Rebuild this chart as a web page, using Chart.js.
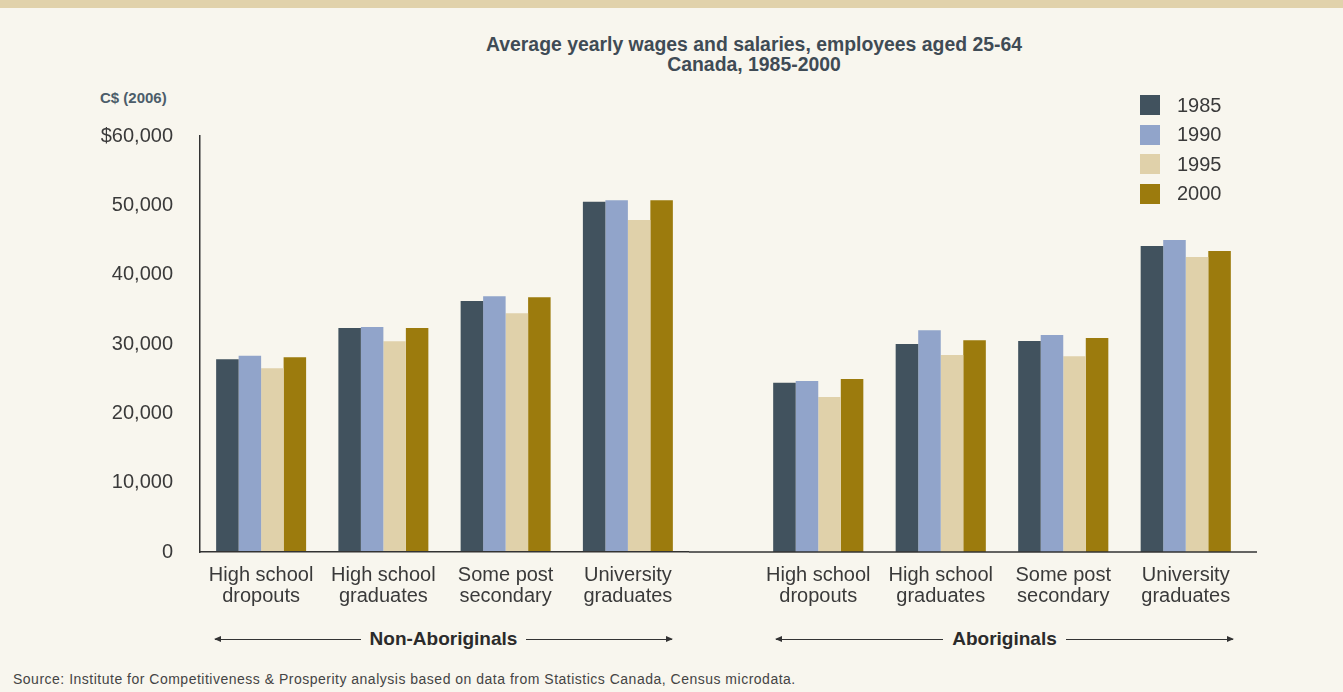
<!DOCTYPE html>
<html>
<head>
<meta charset="utf-8">
<script src="https://cdn.jsdelivr.net/npm/chart.js@4.4.1/dist/chart.umd.min.js"></script>
<style>
  body { margin: 0; background: #f8f6ee; font-family: 'Liberation Sans', Arial, sans-serif; }
  #page { position: relative; width: 1343px; height: 692px; overflow: hidden; background: #f8f6ee; }
  .band { position: absolute; left: 0; top: 0; width: 1343px; height: 8px; background: #e1d2ab; }
  .title { position: absolute; left: 454px; top: 34px; width: 600px; text-align: center;
           font-weight: bold; font-size: 19.4px; line-height: 20px; color: #3f4b55; }
  .ytitle { position: absolute; left: 100px; top: 89px; font-weight: bold; font-size: 15px; color: #4c5d6a; }
  canvas { position: absolute; top: 0; }
  #left { left: 0; }
  #right { left: 689px; }
  #legend { position: absolute; left: 1140px; top: 95px; }
  .item { display: flex; align-items: center; height: 20px; margin-bottom: 9.5px; }
  .swatch { width: 20px; height: 20px; margin-right: 17px; }
  .item span { font-size: 20px; color: #3a3a3a; }
  .group { position: absolute; top: 628px; height: 22px; display: flex; align-items: center; }
  .group .line { flex: 1; height: 1px; background: #333; position: relative; }
  .group .line.l::before { content: ''; position: absolute; left: -1px; top: -3px;
           border-right: 7px solid #333; border-top: 3.5px solid transparent; border-bottom: 3.5px solid transparent; }
  .group .line.r::after { content: ''; position: absolute; right: -1px; top: -3px;
           border-left: 7px solid #333; border-top: 3.5px solid transparent; border-bottom: 3.5px solid transparent; }
  .group b { font-size: 19px; color: #2b2b2b; margin: 0 9px; }
  .source { position: absolute; left: 13px; top: 671px; font-size: 14px; letter-spacing: 0.5px; color: #444; }
</style>
</head>
<body>
<div id="page">
  <div class="band"></div>
  <div class="title">Average yearly wages and salaries, employees aged 25-64<br>Canada, 1985-2000</div>
  <div class="ytitle">C$ (2006)</div>
  <canvas id="left" width="689" height="620"></canvas>
  <canvas id="right" width="654" height="620"></canvas>
  <div id="legend"></div>
  <div class="group" style="left:215px; width:457px;">
    <div class="line l"></div><b>Non-Aboriginals</b><div class="line r"></div>
  </div>
  <div class="group" style="left:776px; width:457px;">
    <div class="line l"></div><b>Aboriginals</b><div class="line r"></div>
  </div>
  <div class="source">Source: Institute for Competitiveness &amp; Prosperity analysis based on data from Statistics Canada, Census microdata.</div>
</div>
<script>
// data (C$ 2006)
const years = ['1985', '1990', '1995', '2000'];
const categories = [
    ['High school', 'dropouts'],
    ['High school', 'graduates'],
    ['Some post', 'secondary'],
    ['University', 'graduates']
];
const nonAbo1985 = [27800, 32300, 36200, 50500];
const nonAbo1990 = [28300, 32450, 36900, 50750];
const nonAbo1995 = [26500, 30400, 34450, 47900];
const nonAbo2000 = [28100, 32300, 36750, 50750];
const abo1985 = [24400, 30000, 30450, 44150];
const abo1990 = [24650, 32000, 31300, 45000];
const abo1995 = [22350, 28400, 28250, 42550];
const abo2000 = [24950, 30550, 30850, 43400];
const yTicks = [0, 10000, 20000, 30000, 40000, 50000, 60000];

const colors = ['#41525e', '#91a4ca', '#e0d1aa', '#9c7b0d'];
const textColor = '#3a3a3a';
const fontFamily = "'Liberation Sans', Arial, sans-serif";

function datasets(series) {
    return series.map((d, i) => ({
        label: years[i],
        data: d,
        backgroundColor: colors[i],
        borderWidth: 0,
        barPercentage: 1.0,
        categoryPercentage: 0.736
    }));
}

// axis line of the right panel, running on from the left panel
const baseline = {
    id: 'baseline',
    afterDraw(chart) {
        const { ctx, chartArea } = chart;
        ctx.save();
        ctx.strokeStyle = '#333';
        ctx.lineWidth = 1.5;
        ctx.beginPath();
        ctx.moveTo(0, chartArea.bottom);
        ctx.lineTo(chartArea.right + 10, chartArea.bottom);
        ctx.stroke();
        ctx.restore();
    }
};

function makeChart(id, series, isLeft) {
    const yScale = {
        display: isLeft,
        min: 0,
        max: 60000,
        grid: { display: false, drawTicks: false },
        border: { color: '#333', width: 1.5, z: 1 },
        afterBuildTicks: s => { s.ticks = yTicks.map(v => ({ value: v })); },
        ticks: {
            padding: 27,
            color: textColor,
            font: { family: fontFamily, size: 20 },
            callback: v => (v === 60000 ? '$' : '') + v.toLocaleString('en-US')
        }
    };
    if (isLeft) yScale.afterFit = s => { s.width = 200; };

    return new Chart(document.getElementById(id), {
        type: 'bar',
        data: { labels: categories, datasets: datasets(series) },
        plugins: isLeft ? [] : [baseline],
        options: {
            responsive: false,
            devicePixelRatio: 1,
            animation: false,
            layout: {
                padding: isLeft
                    ? { top: 136, left: 0, right: 0, bottom: 0 }
                    : { top: 136, left: 68, right: 96, bottom: 0 }
            },
            plugins: {
                legend: { display: false },
                tooltip: { enabled: false }
            },
            scales: {
                x: {
                    grid: { display: false, drawTicks: false },
                    border: { display: isLeft, color: '#333', width: 1.5, z: 1 },
                    ticks: {
                        padding: 13,
                        color: textColor,
                        maxRotation: 0,
                        autoSkip: false,
                        font: { family: fontFamily, size: 20, lineHeight: 1.05 }
                    },
                    afterFit: s => { s.height = 68; }
                },
                y: yScale
            }
        }
    });
}

const leftChart = makeChart('left', [nonAbo1985, nonAbo1990, nonAbo1995, nonAbo2000], true);
makeChart('right', [abo1985, abo1990, abo1995, abo2000], false);

// legend built from the chart's own datasets
const legend = document.getElementById('legend');
leftChart.data.datasets.forEach(ds => {
    const item = document.createElement('div');
    item.className = 'item';
    item.innerHTML = '<div class="swatch" style="background:' + ds.backgroundColor + '"></div><span>' + ds.label + '</span>';
    legend.appendChild(item);
});
</script>
</body>
</html>
